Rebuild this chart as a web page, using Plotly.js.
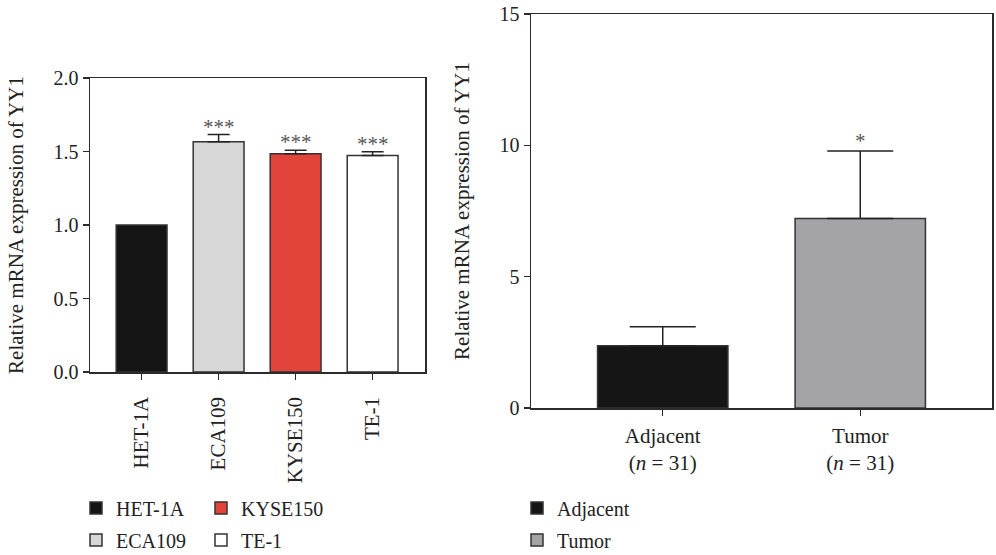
<!DOCTYPE html>
<html>
<head>
<meta charset="utf-8">
<script src="https://cdn.plot.ly/plotly-3.0.1.min.js"></script>
<style>html,body{margin:0;padding:0;background:#fff;overflow:hidden;}#chart{width:996px;height:570px;}</style>
</head>
<body>
<div id="chart"></div>
<script>
// ---- Data ----
const cellLines = ["HET-1A", "ECA109", "KYSE150", "TE-1"];
const cellMeans = [1.0, 1.567, 1.484, 1.472];
const cellErrs  = [0, 0.048, 0.025, 0.027];
const cellStars = ["", "***", "***", "***"];
const cellColors = ["#141414", "#d7d7d7", "#e2433b", "#ffffff"];

const tissueGroups = ["Adjacent", "Tumor"];
const tissueLabels = ["Adjacent<br>(<i>n</i> = 31)", "Tumor<br>(<i>n</i> = 31)"];
const tissueMeans = [2.37, 7.21];
const tissueErrs  = [0.72, 2.57];
const tissueStars = ["", "*"];
const tissueColors = ["#151515", "#a4a3a6"];

const yTicksLeft = [0, 0.5, 1.0, 1.5, 2.0];
const yTicksRight = [0, 5, 10, 15];

// ---- Styling ----
const FONT = "Liberation Serif, Times New Roman, serif";
const lineCol = "#2b2b2b";
const traces = [];
// Left legend columns: col 1 (legend) HET-1A, ECA109 ; col 2 (legend2) KYSE150, TE-1
const legendOf = {"HET-1A": "legend", "ECA109": "legend", "KYSE150": "legend2", "TE-1": "legend2"};
cellLines.forEach((c, i) => {
  traces.push({
    type: "bar", x: [c], y: [cellMeans[i]], name: c,
    xaxis: "x", yaxis: "y", width: 0.66, offsetgroup: "a",
    legend: legendOf[c], legendgroup: c,
    marker: {color: cellColors[i], line: {color: "#333333", width: 1.5}},
    error_y: {type: "data", symmetric: false, array: [cellErrs[i]], arrayminus: [0],
              visible: cellErrs[i] > 0, color: "#222", thickness: 1.5, width: 11},
    hoverinfo: "skip"
  });
});
tissueGroups.forEach((g, i) => {
  traces.push({
    type: "bar", x: [g], y: [tissueMeans[i]], name: g,
    xaxis: "x2", yaxis: "y2", width: 0.66, offsetgroup: "b",
    legend: "legend3", legendgroup: g,
    marker: {color: tissueColors[i], line: {color: "#333333", width: 1.5}},
    error_y: {type: "data", symmetric: false, array: [tissueErrs[i]], arrayminus: [0],
              color: "#222", thickness: 1.5, width: 33},
    hoverinfo: "skip"
  });
});

const annotations = [];
cellLines.forEach((c, i) => {
  if (cellStars[i]) annotations.push({
    xref: "x", yref: "y", x: c, y: cellMeans[i] + cellErrs[i], text: cellStars[i],
    showarrow: false, yanchor: "bottom", yshift: -6,
    font: {family: FONT, size: 21, color: "#555"}
  });
});
tissueGroups.forEach((g, i) => {
  if (tissueStars[i]) annotations.push({
    xref: "x2", yref: "y2", x: g, y: tissueMeans[i] + tissueErrs[i], text: tissueStars[i],
    showarrow: false, yanchor: "bottom", yshift: -4,
    font: {family: FONT, size: 21, color: "#555"}
  });
});

// Figure is drawn slightly taller than the 555px window (extra bottom rows are
// only legend padding and are clipped), so pixel positions are measured from the top.
const W = 996, H = 570;
const px = v => v / W, py = v => 1 - v / H;

const axisCommon = {
  showline: true, linecolor: lineCol, linewidth: 1.5, mirror: true,
  ticks: "outside", ticklen: 6, tickwidth: 1.5, tickcolor: lineCol,
  showgrid: false, zeroline: false, fixedrange: true,
  tickfont: {family: FONT, size: 20, color: "#222"}
};
const legendCommon = {
  orientation: "v", xanchor: "left", yanchor: "top", traceorder: "grouped",
  font: {family: FONT, size: 20, color: "#222"}, bgcolor: "rgba(0,0,0,0)",
  tracegroupgap: 3, itemclick: false, itemdoubleclick: false
};

const layout = {
  width: W, height: H,
  margin: {l: 0, r: 0, t: 0, b: 0},
  paper_bgcolor: "#fff", plot_bgcolor: "#fff",
  showlegend: true,
  barmode: "overlay",
  xaxis: Object.assign({}, axisCommon, {
    domain: [px(90), px(425)], anchor: "y",
    type: "category", categoryorder: "array", categoryarray: cellLines,
    range: [-0.67, 3.68], tickangle: -90, ticklabelstandoff: 9,
    tickfont: {family: FONT, size: 21, color: "#222"}
  }),
  yaxis: Object.assign({}, axisCommon, {
    domain: [py(372), py(78)], anchor: "x",
    range: [0, 2.0], tickvals: yTicksLeft, tickformat: ".1f",
    title: {text: "Relative mRNA expression of YY1", standoff: 24,
            font: {family: FONT, size: 21, color: "#222"}}
  }),
  xaxis2: Object.assign({}, axisCommon, {
    domain: [px(531), px(992)], anchor: "y2",
    type: "category", categoryorder: "array", categoryarray: tissueGroups,
    tickvals: tissueGroups, ticktext: tissueLabels,
    range: [-0.667, 1.667], ticklabelstandoff: 2,
    tickfont: {family: FONT, size: 21, color: "#222"}
  }),
  yaxis2: Object.assign({}, axisCommon, {
    domain: [py(408), py(14)], anchor: "x2",
    range: [0, 15], tickvals: yTicksRight,
    title: {text: "Relative mRNA expression of YY1", standoff: 24,
            font: {family: FONT, size: 21, color: "#222"}}
  }),
  legend: Object.assign({}, legendCommon, {x: px(76), y: py(488.5)}),
  legend2: Object.assign({}, legendCommon, {x: px(201), y: py(488.5)}),
  legend3: Object.assign({}, legendCommon, {x: px(517), y: py(488.5)}),
  annotations: annotations
};

Plotly.newPlot("chart", traces, layout, {displayModeBar: false, staticPlot: true});
</script>
</body>
</html>
